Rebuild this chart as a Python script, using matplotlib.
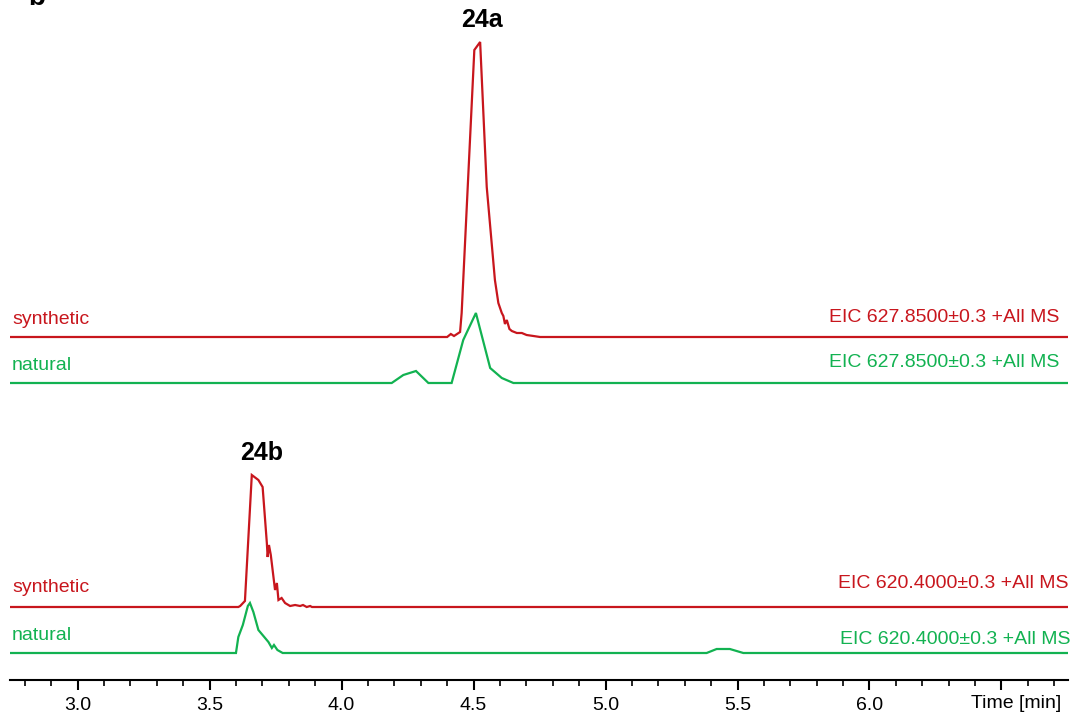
import matplotlib
matplotlib.use("Agg")
import matplotlib.pyplot as plt
from matplotlib.ticker import MultipleLocator, FuncFormatter

plt.rcParams['font.family'] = ['Liberation Sans', 'DejaVu Sans']

RED = '#C8161D'
GREEN = '#12B251'

# Retention time window [min]
t_start, t_end = 2.744, 6.752

# 24a, EIC 627.8500 -- synthetic
syn_a_time = [4.400, 4.414, 4.426, 4.449, 4.455, 4.503, 4.525, 4.550, 4.581, 4.594,
              4.607, 4.613, 4.619, 4.626, 4.636, 4.645, 4.664, 4.683, 4.701, 4.727, 4.752]
syn_a_int = [0, 3, 1, 5, 24, 287, 295, 150, 57, 34,
             24, 21, 13, 17, 8, 6, 4, 4, 2, 1, 0]

# 24a, EIC 627.8500 -- natural
nat_a_time = [4.190, 4.234, 4.282, 4.329, 4.417, 4.461, 4.509, 4.563, 4.607, 4.651]
nat_a_int = [0, 8, 12, 0, 0, 43, 70, 15, 5, 0]

# 24b, EIC 620.4000 -- synthetic
syn_b_time = [3.609, 3.616, 3.634, 3.660, 3.685, 3.701, 3.717, 3.720, 3.725, 3.732,
              3.748, 3.755, 3.761, 3.773, 3.786, 3.805, 3.824, 3.843, 3.854, 3.868,
              3.881, 3.888]
syn_b_int = [0, 1, 6, 132, 127, 120, 64, 50, 62, 52,
             17, 24, 7, 9, 4, 1, 2, 1, 2, 0,
             1, 0]

# 24b, EIC 620.4000 -- natural
nat_b_time = [3.600, 3.609, 3.626, 3.645, 3.653, 3.666, 3.685, 3.704, 3.723, 3.736,
              3.744, 3.757, 3.777, 5.383, 5.421, 5.471, 5.522]
nat_b_int = [0, 16, 28, 47, 50, 41, 23, 17, 11, 5,
             8, 3, 0, 0, 4, 4, 0]

tick_labels = ['3.0', '3.5', '4.0', '4.5', '5.0', '5.5', '6.0']
peak_labels = ['24a', '24b']
eic_labels = ['EIC 627.8500±0.3 +All MS', 'EIC 620.4000±0.3 +All MS']
sample_labels = ['synthetic', 'natural']

W, H = 1074, 716
fig = plt.figure(figsize=(W / 100, H / 100), dpi=100)
ax = fig.add_axes([10 / W, 36 / H, 1058 / W, 680 / H])
ax.set_xlim(t_start, t_end)
ax.set_ylim(0, 680)


def trace(times, ints, offset, color):
    t = [t_start] + list(times) + [t_end]
    y = [offset] + [offset + v for v in ints] + [offset]
    ax.plot(t, y, color=color, lw=1.6, solid_joinstyle='miter')


# vertical offsets of the stacked traces
off_syn_a, off_nat_a, off_syn_b, off_nat_b = 343, 297, 73, 27
trace(syn_a_time, syn_a_int, off_syn_a, RED)
trace(nat_a_time, nat_a_int, off_nat_a, GREEN)
trace(syn_b_time, syn_b_int, off_syn_b, RED)
trace(nat_b_time, nat_b_int, off_nat_b, GREEN)

for s in ['left', 'right', 'top']:
    ax.spines[s].set_visible(False)
ax.spines['bottom'].set_linewidth(1.5)
ax.set_yticks([])
ax.xaxis.set_major_locator(MultipleLocator(0.5))
ax.xaxis.set_minor_locator(MultipleLocator(0.1))
ax.tick_params(axis='x', which='major', length=7, width=1.5, direction='out',
               labelsize=14, pad=5)
ax.tick_params(axis='x', which='minor', length=4, width=1.2, direction='out')
ax.xaxis.set_major_formatter(FuncFormatter(
    lambda v, p: f'{v:.1f}' if f'{v:.1f}' in tick_labels else ''))


def fx(x):
    return x / W


def fy(y):
    return 1 - y / H


FS = 14
fig.text(fx(1061), fy(703), 'Time [min]', ha='right', va='center', fontsize=FS)

# sample names
fig.text(fx(12), fy(319), sample_labels[0], color=RED, fontsize=FS, va='center')
fig.text(fx(12), fy(366), sample_labels[1], color=GREEN, fontsize=FS, va='center')
fig.text(fx(12), fy(588), sample_labels[0], color=RED, fontsize=FS, va='center')
fig.text(fx(12), fy(636), sample_labels[1], color=GREEN, fontsize=FS, va='center')

# extracted ion chromatogram captions
fig.text(fx(1059), fy(318), eic_labels[0], color=RED, fontsize=FS, ha='right', va='center')
fig.text(fx(1059), fy(363), eic_labels[0], color=GREEN, fontsize=FS, ha='right', va='center')
fig.text(fx(1069), fy(584), eic_labels[1], color=RED, fontsize=FS, ha='right', va='center')
fig.text(fx(1071), fy(640), eic_labels[1], color=GREEN, fontsize=FS, ha='right', va='center')

# compound labels
fig.text(fx(482), fy(20), peak_labels[0], fontsize=18, fontweight='bold', ha='center', va='center')
fig.text(fx(262), fy(453), peak_labels[1], fontsize=18, fontweight='bold', ha='center', va='center')

# panel letter, partly outside the top edge
fig.text(fx(28), fy(5), 'b', fontsize=20, fontweight='bold', ha='left', va='baseline')

fig.savefig('out.png', dpi=100)
